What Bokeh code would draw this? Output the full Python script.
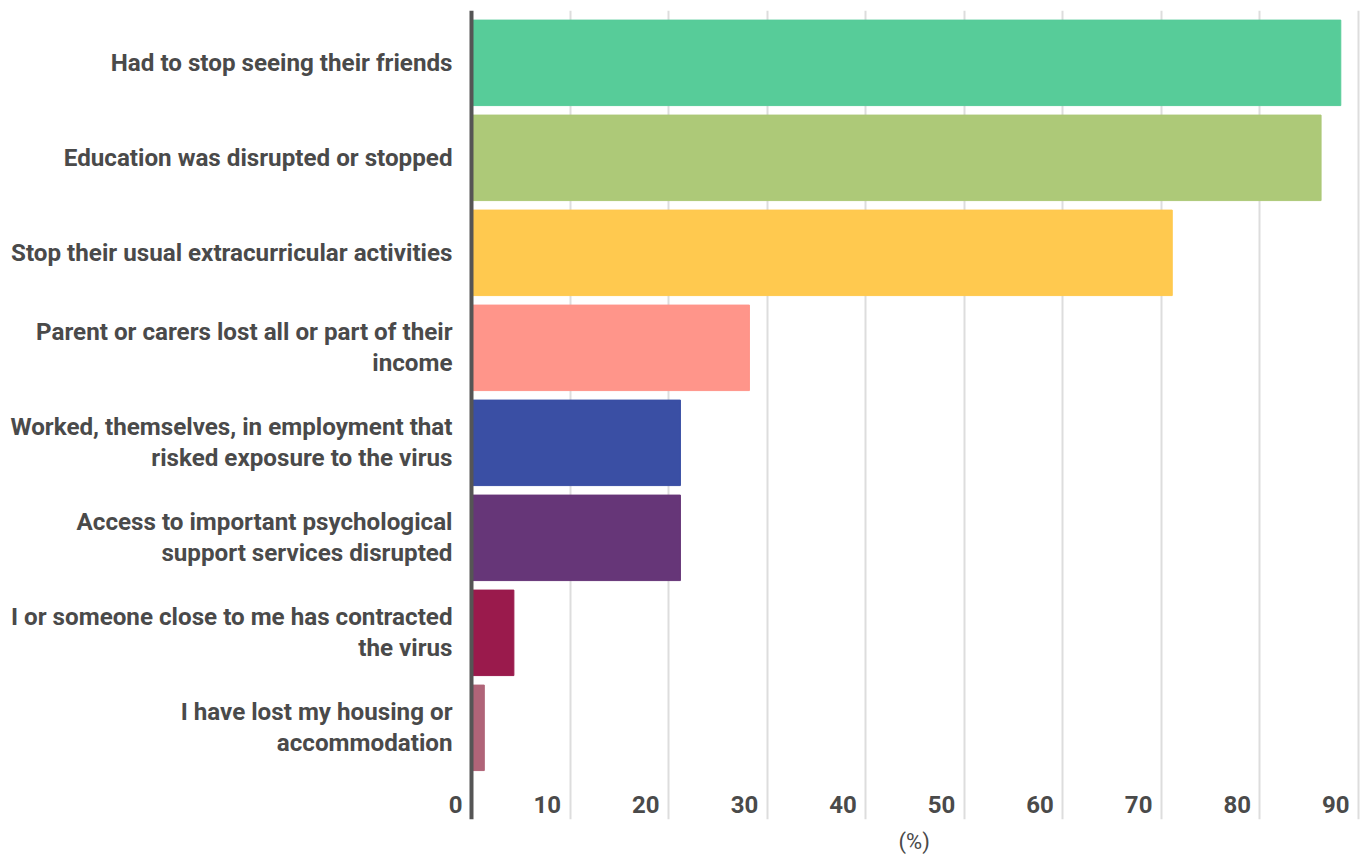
from bokeh.plotting import figure
from bokeh.models import Range1d, FixedTicker, ColumnDataSource, Label, Span, Title
from bokeh.embed import file_html
from bokeh.resources import INLINE

categories = [
    "Had to stop seeing their friends",
    "Education was disrupted or stopped",
    "Stop their usual extracurricular activities",
    "Parent or carers lost all or part of their\nincome",
    "Worked, themselves, in employment that\nrisked exposure to the virus",
    "Access to important psychological\nsupport services disrupted",
    "I or someone close to me has contracted\nthe virus",
    "I have lost my housing or\naccommodation",
]
values = [88.2, 86.2, 71.1, 28.2, 21.2, 21.2, 4.3, 1.3]
colors = ["#57cc99", "#adc978", "#ffc94f", "#ff958a", "#3a4fa4", "#663678", "#9a1a4c", "#b06478"]
x_ticks = [0, 10, 20, 30, 40, 50, 60, 70, 80, 90]
x_title = "(%)"

FONT = "Roboto"
TXT = "#4a4a4a"

idx = list(range(len(categories)))
src = ColumnDataSource(dict(y=idx, v=values, c=colors))

p = figure(width=1366, height=860, output_backend="svg", toolbar_location=None,
           x_range=Range1d(-3.145, 90.2), y_range=Range1d(7.965, -0.551),
           min_border_left=440, min_border_right=6, min_border_top=10, min_border_bottom=41)
p.outline_line_color = None
p.background_fill_color = "white"
p.border_fill_color = "white"

p.xgrid.ticker = FixedTicker(ticks=x_ticks[1:])
p.xgrid.grid_line_color = "#dddddd"
p.xgrid.grid_line_width = 2
p.ygrid.grid_line_color = None

p.hbar(y="y", right="v", left=0, height=0.9, color="c", source=src)

# baseline (zero line) acting as the vertical axis line
p.add_layout(Span(location=0, dimension="height", line_color="#555555", line_width=4))

# y axis with category labels
p.yaxis.ticker = FixedTicker(ticks=idx)
p.yaxis.major_label_overrides = {i: c for i, c in zip(idx, categories)}
p.yaxis.axis_line_color = None
p.yaxis.major_tick_line_color = None
p.yaxis.minor_tick_line_color = None
p.yaxis.major_tick_out = 0
p.yaxis.major_tick_in = 0
p.yaxis.major_label_standoff = -12
p.yaxis.major_label_text_font = FONT
p.yaxis.major_label_text_font_style = "bold"
p.yaxis.major_label_text_font_size = "24.2px"
p.yaxis.major_label_text_color = TXT
p.yaxis.major_label_text_line_height = 1.1

# x axis hidden; its tick labels drawn right-aligned next to the grid lines
p.xaxis.visible = False

for t in x_ticks:
    p.add_layout(Label(x=t, y=7.807, text=str(t), x_offset=-9,
                       text_align="right", text_baseline="middle",
                       text_font=FONT, text_font_style="bold", text_font_size="24px",
                       text_color=TXT))

# axis title "(%)" centred under the 0–90 span
p.add_layout(Title(text=x_title, align="left", offset=458, standoff=14,
                   text_font=FONT, text_font_style="normal", text_font_size="22px",
                   text_color=TXT), "below")

open("out.html", "w").write(file_html(p, INLINE))
